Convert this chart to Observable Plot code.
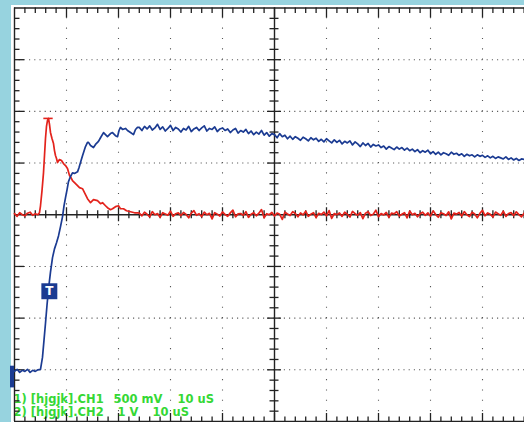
<!DOCTYPE html>
<html><head><meta charset="utf-8">
<script src="https://cdn.jsdelivr.net/npm/d3@7"></script>
<script src="https://cdn.jsdelivr.net/npm/@observablehq/plot@0.6"></script>
<style>
html,body{margin:0;padding:0;background:#97d3df;width:524px;height:422px;overflow:hidden;}
#chart svg{display:block;overflow:hidden;}
</style></head><body><div id="chart"></div>
<script>
// Oscilloscope settings
const timePerDiv = 10;        // µs / div
const ch1MvPerDiv = 500;      // mV / div
const ch2VPerDiv = 1;         // V / div
const ch1Position = 0;        // div
const ch2Position = -3.03;    // div
const triggerTime = 6.7;      // µs
const triggerLevel = 1.55;    // V on CH2
const ch1Label = ["1) [hjgjk].CH1", "500 mV", "10 uS"];
const ch2Label = ["2) [hjgjk].CH2", "1 V", "10 uS"];

// CH1 (mV) – leading edge, read point by point
const ch1Time = [0,0.5,1,1.5,2,2.5,3,3.5,4,4.5,
  4.8,5.0,5.29,5.58,5.77,5.96,6.15,6.35,6.54,6.73,
  6.92,7.21,7.5,7.69,7.88,8.08,8.27,8.65,9.04,9.42,
  9.81,10.19,10.58,10.87,11.15,11.54,12.12,12.5,13.08,13.46,
  14.04,14.62,15.19,15.96,16.54,16.92,17.5,17.88,18.46,18.85,
  19.42,20.0,20.38,20.96,21.54,22.31,23.08,23.65];
const ch1Values = [10,-15,20,0,-10,15,25,-5,10,0,
  19,87,233,408,573,738,854,913,932,874,
  796,738,689,621,573,544,505,534,524,495,
  476,447,379,359,330,311,282,262,252,214,
  155,117,146,136,107,117,87,68,49,58,
  78,87,58,58,39,29,19,19];
// CH1 (mV) – tail, sampled every 0.5 µs from 24 µs
const tailStart = 24, tailStep = 0.5;
const ch1Tail = [15,-10,25,5,-20,30,0,12,-25,20,8,-5,35,-15,10,18,
  -8,22,3,-30,15,40,-5,10,-18,25,0,14,-40,20,6,-12,
  28,2,-15,18,45,-20,8,12,-6,30,-25,5,20,-10,15,50,
  -30,10,0,22,-12,16,4,-45,25,8,-8,30,12,-20,18,-2,
  35,-15,6,20,-28,14,2,26,-10,40,-35,12,0,18,-16,24,
  5,-22,32,10,-4,20,-38,15,28,-8,6,44,-18,12,-2,22,
  -26,16,8,30,-12,4,20,-30,36,0,14,-20,10,25,-6,18,
  -14,38,2,-24,20,10,-8,28,-40,16,6,22,-12,30,0,-18,
  24,8,-30,14,42,-10,18,4,-22,26,10,-6,34,-16,12,20,
  -8,28,2,-20,15];

// CH2 (V) – leading edge
const ch2Time = [0,0.5,1,1.5,2,2.5,3,3.5,4,4.5,
  5.0,5.38,5.67,5.96,6.25,6.54,6.92,7.31,7.69,8.08,
  8.46,8.85,9.23,9.52,9.81,10.1,10.38,10.77,11.15,11.54,
  12.12,12.4,12.69,13.08,13.65,14.04,14.23,14.62,15.19,15.58,
  16.15,16.54,17.12,17.5,17.88,18.46,18.85,19.42,19.81,20.1,
  20.38,20.77,21.35,21.73,22.31,22.88,23.27,23.65];
const ch2Values = [0,0.04,-0.02,0.02,0,0.04,-0.02,0.02,0,0.03,
  0.04,0.27,0.60,0.93,1.28,1.59,1.92,2.20,2.37,2.49,
  2.62,2.80,2.99,3.20,3.36,3.51,3.67,3.77,3.84,3.83,
  3.86,3.94,4.04,4.17,4.35,4.43,4.43,4.37,4.33,4.39,
  4.45,4.52,4.62,4.58,4.54,4.60,4.62,4.56,4.54,4.66,
  4.72,4.68,4.70,4.66,4.62,4.58,4.68,4.72];
// CH2 (V) – tail, sampled every 0.5 µs from 24 µs
const ch2Tail = [4.72,4.66,4.74,4.69,4.75,4.67,4.71,4.78,4.68,4.73,4.65,4.70,4.76,4.66,4.72,4.69,
  4.63,4.70,4.67,4.74,4.64,4.69,4.72,4.66,4.71,4.75,4.65,4.70,4.68,4.73,4.64,4.69,
  4.71,4.66,4.69,4.62,4.67,4.70,4.61,4.66,4.63,4.68,
  4.60,4.65,4.58,4.63,4.59,4.66,4.57,4.62,4.55,4.60,
  4.58,4.52,4.60,4.54,4.57,4.50,
  4.55,4.49,4.54,4.51,4.47,4.53,4.50,4.46,4.52,4.48,4.51,4.45,
  4.49,4.44,4.50,4.46,4.42,4.48,4.43,4.47,4.40,4.45,4.42,4.46,
  4.38,4.44,4.40,4.35,4.42,4.37,4.41,4.34,4.39,4.36,
  4.38,4.33,4.36,4.30,4.35,4.32,4.29,4.34,4.30,4.33,
  4.28,4.32,4.27,4.30,4.25,4.29,4.23,4.27,4.24,4.28,
  4.21,4.25,4.20,4.24,4.19,4.23,4.21,4.18,4.24,4.20,
  4.22,4.18,4.21,4.16,4.20,4.17,4.19,4.15,4.19,4.16,
  4.18,4.14,4.17,4.13,4.16,4.12,4.15,4.13,
  4.11,4.15,4.10,4.13,4.09,4.12,4.08,4.11,4.10];

// ---- build channel tables (in screen divisions) ----
const tailTime = i => tailStart + i * tailStep;
const ch1 = [
  ...ch1Time.map((t, i) => ({t, v: ch1Values[i]})),
  ...ch1Tail.map((v, i) => ({t: tailTime(i), v}))
].map(d => ({t: d.t, y: d.v / ch1MvPerDiv + ch1Position}));
const ch2 = [
  ...ch2Time.map((t, i) => ({t, v: ch2Values[i]})),
  ...ch2Tail.map((v, i) => ({t: tailTime(i), v}))
].map(d => ({t: d.t, y: d.v / ch2VPerDiv + ch2Position}));
const ch1Peak = ch1.reduce((a, b) => (b.y > a.y ? b : a));

// ---- screen geometry ----
const W = 524, H = 422;
const xRange = [14, 534], yRange = [421, 7.5];
const xMax = 10 * timePerDiv;
const pxX = xMax / (xRange[1] - xRange[0]);
const pxY = 8 / (yRange[0] - yRange[1]);
const red = "#e3231c", navy = "#1b3b92", ink = "#222", dotC = "#555", green = "#35d835";

const divX = d3.range(1, 10).map(k => k * timePerDiv).filter(t => t !== 50);
const divY = [-3, -2, -1, 1, 2, 3];
const subX = d3.range(1, 50).map(k => k * 2);             // every 1/5 div
const subY = d3.range(-19, 20).filter(k => k !== 0).map(k => k / 5);
const isMajX = t => t % timePerDiv === 0;
const isMajY = y => Math.abs(Math.round(y) - y) < 1e-6;

const font = "DejaVu Sans, sans-serif";
const labelRows = [ch1Label, ch2Label];
const labelX = [[13, 113, 177], [13, 117, 152]];
const labelMarks = labelRows.flatMap((row, r) => row.map((s, c) =>
  Plot.text([s], {text: d => d, frameAnchor: "top-left", dx: labelX[r][c], dy: 399 + r * 13,
    textAnchor: "start", lineAnchor: "middle", fill: green, fontWeight: "bold",
    fontSize: 11.5, fontFamily: font})));

const chart = Plot.plot({
  width: W, height: H,
  marginLeft: 0, marginRight: 0, marginTop: 0, marginBottom: 0,
  style: {background: "transparent", overflow: "hidden"},
  x: {domain: [0, xMax], range: xRange, axis: null},
  y: {domain: [-4, 4], range: yRange, axis: null},
  marks: [
    Plot.rect([0], {x1: 0, x2: xMax, y1: -4, y2: 4, fill: "white", insetLeft: -3, insetTop: -2.5, insetBottom: -2}),
    // dotted graticule
    Plot.ruleY(divY, {y: d => d, x1: 0, x2: xMax, stroke: dotC, strokeWidth: 1.1, strokeDasharray: `1.1 ${5.2 - 1.1}`, strokeDashoffset: 0.55}),
    Plot.ruleX(divX, {x: d => d, y1: -4, y2: 4, stroke: dotC, strokeWidth: 1.1, strokeDasharray: `1.1 ${51.69 / 5 - 1.1}`, strokeDashoffset: 0.55}),
    ...labelMarks,
    // border lines
    Plot.ruleX([0], {x: d => d, y1: -4, y2: 4, stroke: ink, strokeWidth: 1.4}),
    Plot.ruleY([4], {y: d => d, x1: 0, x2: xMax, stroke: ink, strokeWidth: 1.4}),
    Plot.ruleY([-4], {y: d => d, x1: 0, x2: xMax, stroke: ink, strokeWidth: 1.4}),
    Plot.ruleX([xMax / 2], {x: d => d, y1: -4, y2: 4, stroke: ink, strokeWidth: 1.4}),
    Plot.ruleY([0], {y: d => d, x1: 0, x2: xMax, stroke: ink, strokeWidth: 1.4}),
    // border ticks
    Plot.ruleX(subX, {x: d => d, y1: 4, y2: d => 4 - (isMajX(d) ? 10 : 5.5) * pxY, stroke: ink, strokeWidth: 1.3}),
    Plot.ruleX(subX, {x: d => d, y1: -4, y2: d => -4 + (isMajX(d) ? 8 : 4.5) * pxY, stroke: ink, strokeWidth: 1.3}),
    Plot.ruleY(subY, {y: d => d, x1: 0, x2: d => (isMajY(d) ? 10 : 5.5) * pxX, stroke: ink, strokeWidth: 1.3}),
    // centre cross ticks
    Plot.ruleY(subY, {y: d => d, x1: d => xMax / 2 - (isMajY(d) ? 7 : 4.5) * pxX, x2: d => xMax / 2 + (isMajY(d) ? 7 : 4.5) * pxX, stroke: ink, strokeWidth: 1.3}),
    Plot.ruleX(subX.filter(t => t !== xMax / 2), {x: d => d, y1: d => -(isMajX(d) ? 7 : 4) * pxY, y2: d => (isMajX(d) ? 7 : 4) * pxY, stroke: ink, strokeWidth: 1.3}),
    // traces
    Plot.line(ch1, {x: "t", y: "y", stroke: red, strokeWidth: 1.7}),
    Plot.ruleY([ch1Peak], {y: "y", x1: d => d.t - 0.9, x2: d => d.t + 0.9, stroke: red, strokeWidth: 1.6}),
    Plot.line(ch2, {x: "t", y: "y", stroke: navy, strokeWidth: 1.7}),
    // CH2 ground marker and trigger marker
    Plot.rect([ch2Position], {x1: 0, x2: 0, y1: d => d + 0.1, y2: d => d - 0.32, insetLeft: -4, fill: navy}),
    Plot.dot([{t: triggerTime, y: triggerLevel / ch2VPerDiv + ch2Position}], {x: "t", y: "y", symbol: "square", r: 9, fill: navy, stroke: "none"}),
    Plot.text([{t: triggerTime, y: triggerLevel / ch2VPerDiv + ch2Position}], {x: "t", y: "y", text: () => "T", fill: "white", fontWeight: "bold", fontSize: 12, fontFamily: font})
  ]
});
document.getElementById("chart").appendChild(chart);
</script></body></html>
